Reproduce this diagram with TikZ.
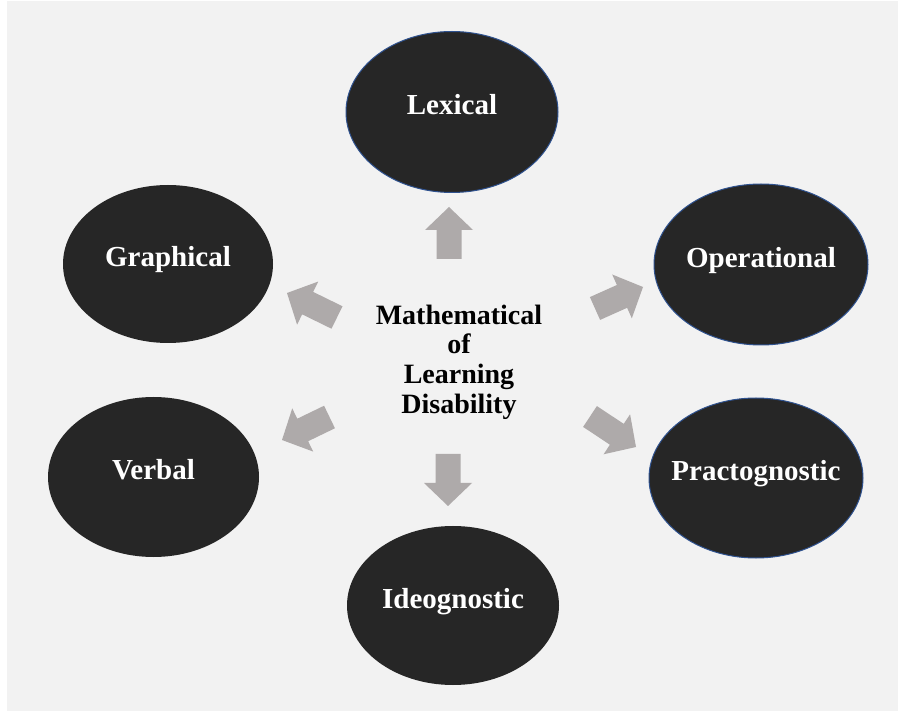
\documentclass[tikz,border=0pt]{standalone}
\usepackage{fontspec}
\setmainfont{Liberation Serif}
\usetikzlibrary{calc,shapes.geometric}

\definecolor{pagegray}{HTML}{F2F2F2}
\definecolor{discfill}{HTML}{262626}
\definecolor{discedge}{HTML}{2F528F}
\definecolor{arrowgray}{HTML}{AEAAAA}

\tikzset{
  disc/.style={ellipse, fill=discfill, draw=none, inner ysep=0pt, inner xsep=-30pt,
    text=white, font=\bfseries\fontsize{29}{31}\selectfont,
    text height=0.7em, text depth=0.15em},
  edged/.style={draw=discedge, line width=1pt},
  hubtext/.style={align=center, text=black,
    font=\bfseries\fontsize{28}{29.7}\selectfont},
  blockfill/.style={fill=arrowgray, draw=none}
}

% block arrow from a tail coordinate to a tip coordinate
\newcommand\blockarrow[2]{%
  \coordinate (hb) at ($(#2)!23pt!(#1)$);
  \fill[blockfill]
    ($(#1)!12.5pt!90:(#2)$) -- ($(hb)!12.5pt!90:(#2)$) --
    ($(hb)!24pt!90:(#2)$) -- (#2) --
    ($(hb)!24pt!-90:(#2)$) -- ($(hb)!12.5pt!-90:(#2)$) --
    ($(#1)!12.5pt!-90:(#2)$) -- cycle;
}

\begin{document}
\begin{tikzpicture}[x=1pt, y=-1pt]
  \useasboundingbox (0,0) rectangle (898,711);
  \fill[white] (0,0) rectangle (898,711);
  \fill[pagegray] (7,1) rectangle (898,711);

  % outer categories
  \node[disc, edged, minimum width=212pt, minimum height=161pt] (lex) at (452,112) {Lexical};
  \node[disc, edged, minimum width=214pt, minimum height=161pt] (ope) at (761,264.5) {Operational};
  \node[disc, minimum width=210pt, minimum height=158pt] (gra) at (168,264) {Graphical};
  \node[disc, minimum width=211pt, minimum height=160pt] (ver) at (153.5,477) {Verbal};
  \node[disc, edged, minimum width=214pt, minimum height=160pt] (pra) at (756,478) {Practognostic};
  \node[disc, minimum width=212pt, minimum height=159pt] (ide) at (453,605.5) {Ideognostic};

  % central label
  \node[hubtext] (hub) at (459,362) {Mathematical\\of\\Learning\\Disability};

  % arrow ends
  \coordinate (upT) at (449,259);   \coordinate (upH) at (449,207);
  \coordinate (dnT) at (448,454);   \coordinate (dnH) at (448,506);
  \coordinate (ulT) at (337,317.5); \coordinate (ulH) at (287,293);
  \coordinate (llT) at (329.5,417); \coordinate (llH) at (282,440);
  \coordinate (urT) at (595,308.5); \coordinate (urH) at (643,287);
  \coordinate (lrT) at (590,416.5); \coordinate (lrH) at (636,447);

  \blockarrow{upT}{upH}
  \blockarrow{dnT}{dnH}
  \blockarrow{ulT}{ulH}
  \blockarrow{llT}{llH}
  \blockarrow{urT}{urH}
  \blockarrow{lrT}{lrH}
\end{tikzpicture}
\end{document}
